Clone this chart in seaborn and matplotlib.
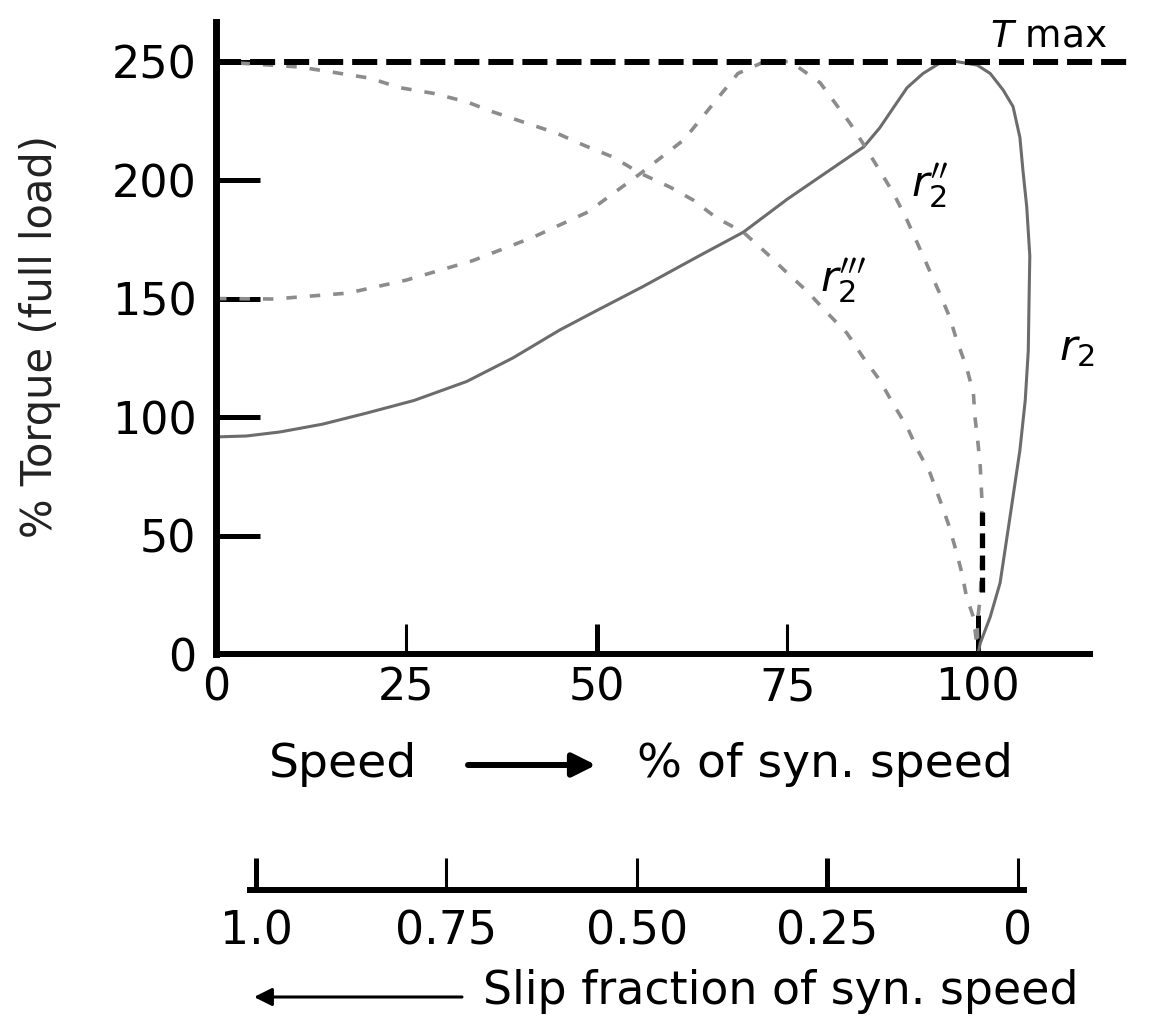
import matplotlib
matplotlib.use("Agg")
import matplotlib.pyplot as plt
import seaborn as sns

# torque-speed curves
# speed in % of synchronous speed, torque in % of full load torque
r2_speed = [0, 4, 8.4, 14, 19.8, 26, 32.9, 39, 45.1, 50, 56, 63.4, 69.2, 75, 80, 85,
            87.1, 89, 90.7, 92.8, 95, 97.2, 99.9, 101.6, 103.3, 104.6, 105.5, 105.9,
            106.4, 106.8, 106.7, 106.6, 106.2, 105.5, 104.2, 102.9, 101.6, 100.3, 100]
r2_torque = [91.6, 92, 93.7, 97, 101.7, 107, 115, 125, 136.7, 145, 155, 168, 178, 192, 203, 214,
             222, 231, 239, 245, 249.4, 250, 248.5, 245, 238, 231, 218, 204,
             188.6, 168, 149, 128, 107, 86, 57.8, 30, 15.6, 4.6, 0]

# r2'' : starts at 150 %, max torque near 72 % speed
r2b_speed = [0, 7.6, 17.3, 25, 33.7, 41.7, 48.8, 55.8, 61.4, 68.5, 72, 75.4, 79.3, 83.2,
             85, 87.1, 88.9, 90.7, 92.1, 95, 96.3, 97.2, 98.5, 99.4, 99.6, 100, 100.3,
             100.5, 100.5, 100.3, 99.9, 100]
r2b_torque = [150, 149.8, 152.3, 157.8, 166, 176, 186.5, 203, 217, 245, 250, 250, 241, 224,
              215, 204, 194.5, 183, 173, 152, 142, 132.5, 121, 110, 100, 89, 79,
              66, 40, 24, 13, 0]

# r2''' : max torque at standstill
r2c_speed = [0, 11, 16.3, 20.2, 24.1, 28.5, 32.9, 36.4, 40.3, 44.7, 48.2, 52.1, 55.6, 59.6,
             62.6, 65.7, 69.2, 72.3, 74.9, 77.6, 80.2, 82.8, 84.9, 87.1, 88.8, 90.7, 92.1,
             93.7, 95, 96.1, 97, 97.9, 98.5, 99.4, 100]
r2c_torque = [250, 247.7, 245, 243, 239, 236.6, 233, 228.7, 224.5, 219.8, 214.8, 209.7, 203, 197,
              191.6, 184, 178, 169, 161, 153, 144, 135.4, 125.3, 115.6, 105.9, 95.8, 86,
              76.4, 65, 55, 45, 34, 24, 15.6, 0]

tmax_speed = [0, 120.6]
tmax_torque = [250, 250]
sync_speed = [100.5, 100.5]
sync_torque = [26, 60]

speed_ticks = [0, 25, 50, 75, 100]
torque_ticks = [0, 50, 100, 150, 200, 250]
slip_ticks = [1.0, 0.75, 0.5, 0.25, 0.0]
slip_labels = ["1.0", "0.75", "0.50", "0.25", "0"]

W, H = 1176, 1023


def fx(px):
    return px / W


def fy(py):
    return 1 - py / H


sns.set_style("white")
plt.rcParams['font.family'] = ['DejaVu Sans']
plt.rcParams['mathtext.fontset'] = 'dejavusans'
plt.rcParams['text.color'] = 'black'
plt.rcParams['xtick.color'] = 'black'
plt.rcParams['ytick.color'] = 'black'

fig = plt.figure(figsize=(W / 100, H / 100), dpi=100)
ax = fig.add_axes([fx(216), fy(654), fx(1090) - fx(216), fy(22) - fy(654)])
ax.set_facecolor('none')

# curves
sns.lineplot(x=r2_speed, y=r2_torque, sort=False, estimator=None, ax=ax,
             color='#6c6c6c', linewidth=2.2)
sns.lineplot(x=r2b_speed, y=r2b_torque, sort=False, estimator=None, ax=ax,
             color='#8c8c8c', linewidth=2.6, linestyle=(0, (2.9, 3.6)))
sns.lineplot(x=r2c_speed, y=r2c_torque, sort=False, estimator=None, ax=ax,
             color='#8c8c8c', linewidth=2.6, linestyle=(0, (2.9, 3.6)))
sns.lineplot(x=sync_speed, y=sync_torque, sort=False, estimator=None, ax=ax,
             color='black', linewidth=3.8, linestyle=(0, (2.8, 1.4)))
sns.lineplot(x=tmax_speed, y=tmax_torque, sort=False, estimator=None, ax=ax,
             color='black', linewidth=4.3, linestyle=(0, (4.2, 1.5)), clip_on=False)

ax.set_xlim(0, 114.7)
ax.set_ylim(0, 266.7)

for s in ['top', 'right']:
    ax.spines[s].set_visible(False)
ax.spines['left'].set_linewidth(5)
ax.spines['bottom'].set_linewidth(4.3)
ax.spines['left'].set_color('black')
ax.spines['bottom'].set_color('black')

ax.set_xticks(speed_ticks)
ax.set_xticklabels([str(t) for t in speed_ticks])
ax.set_yticks(torque_ticks)
ax.set_yticklabels([str(t) for t in torque_ticks])
ax.tick_params(axis='y', direction='in', length=32, width=3.6, labelsize=32, pad=14, left=True)
ax.tick_params(axis='x', direction='in', length=21.6, width=2.2, labelsize=32, pad=9, bottom=True)
for t, v in zip(ax.xaxis.get_major_ticks(), speed_ticks):
    if v in (50, 100):
        t.tick1line.set_markeredgewidth(3.6)
    if v == 100:
        t.tick1line.set_markersize(28)

ax.set_xlabel('')
ax.set_ylabel('% Torque (full load)', fontsize=30, va='center', color='#222222')
ax.yaxis.set_label_coords((40 - 216) / 874, (654 - 337) / 632)

# curve labels
ax.text(101.6, 256.5, '$T$ max', fontsize=27, va='baseline', ha='left')
ax.text(91.2, 193, r'$r_2^{\prime\prime}$', fontsize=31, va='baseline', ha='left')
ax.text(79.3, 153, r'$r_2^{\prime\prime\prime}$', fontsize=31, va='baseline', ha='left')
ax.text(110.6, 124, r'$r_2$', fontsize=31, va='baseline', ha='left')

# speed caption with arrow
fig.text(fx(269), fy(777), 'Speed', fontsize=34, va='baseline', ha='left')
fig.text(fx(637), fy(777), '% of syn. speed', fontsize=34, va='baseline', ha='left')
fig.add_artist(matplotlib.patches.FancyArrowPatch(
    (fx(468), fy(765)), (fx(596), fy(765)), transform=fig.transFigure,
    arrowstyle='-|>,head_length=0.7,head_width=0.35', mutation_scale=20,
    linewidth=4.3, color='black', shrinkA=0, shrinkB=0))

# slip scale
ax2 = fig.add_axes([fx(250), fy(890), fx(1024) - fx(250), fy(850) - fy(890)])
ax2.set_facecolor('none')
ax2.set_xlim(1.0079, -0.0085)
ax2.set_ylim(0, 1)
for s in ['top', 'right', 'left']:
    ax2.spines[s].set_visible(False)
ax2.spines['bottom'].set_linewidth(4.3)
ax2.spines['bottom'].set_color('black')
ax2.set_yticks([])
ax2.set_xticks(slip_ticks)
ax2.set_xticklabels(slip_labels)
ax2.tick_params(axis='x', direction='in', length=23, width=2.2, labelsize=33, pad=14, bottom=True)
for t, v in zip(ax2.xaxis.get_major_ticks(), slip_ticks):
    if v in (1.0, 0.25):
        t.tick1line.set_markeredgewidth(3.6)

fig.text(fx(483), fy(1004), 'Slip fraction of syn. speed', fontsize=33, va='baseline', ha='left')
fig.add_artist(matplotlib.patches.FancyArrowPatch(
    (fx(462), fy(997)), (fx(254), fy(997)), transform=fig.transFigure,
    arrowstyle='-|>,head_length=0.6,head_width=0.3', mutation_scale=18,
    linewidth=2.2, color='black', shrinkA=0, shrinkB=0))

fig.savefig('out.png', dpi=100)
